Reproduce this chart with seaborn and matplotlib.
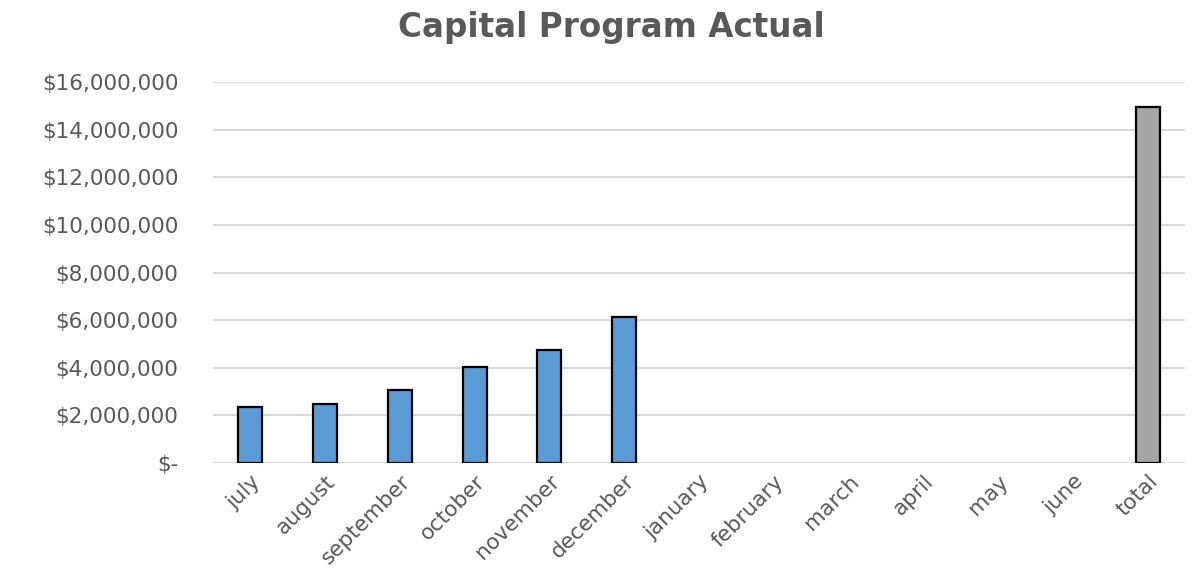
import numpy as np
import pandas as pd
import matplotlib
matplotlib.use("Agg")
import matplotlib.pyplot as plt
from matplotlib.ticker import FuncFormatter
import seaborn as sns

months = ["july", "august", "september", "october", "november", "december",
          "january", "february", "march", "april", "may", "june", "total"]
actual = [2370000, 2470000, 3060000, 4030000, 4750000, 6150000,
          np.nan, np.nan, np.nan, np.nan, np.nan, np.nan, 14960000]
bar_colors = ["#5B9BD5"] * 12 + ["#A5A5A5"]

sns.set_theme(style="white")
plt.rcParams["font.family"] = ["DejaVu Sans"]

df = pd.DataFrame({"month": months, "actual": actual})

fig = plt.figure(figsize=(12.02, 5.82), dpi=100)
ax = fig.add_axes([213 / 1202, 1 - 463 / 582, (1185 - 213) / 1202, (463 - 82) / 582])

sns.barplot(data=df, x="month", y="actual", hue="month", order=months,
            hue_order=months, palette=bar_colors, legend=False, width=0.32,
            saturation=1, edgecolor="black", linewidth=1.6, ax=ax, zorder=3)

ax.set_xlim(-0.5, len(months) - 0.5)
ax.set_ylim(0, 16000000)
ax.set_yticks(np.arange(0, 16000001, 2000000))

def fmt(v, pos):
    if v == 0:
        return "$-"
    return "${:,.0f}".format(v)

ax.yaxis.set_major_formatter(FuncFormatter(fmt))
ax.grid(axis="y", color="#D9D9D9", linewidth=1.5, zorder=0)
ax.set_axisbelow(True)
for s in ax.spines.values():
    s.set_visible(False)
ax.tick_params(axis="both", length=0, colors="#595959", labelsize=15.5)
ax.tick_params(axis="y", pad=25)
ax.set_xlabel("")
ax.set_ylabel("")
plt.setp(ax.get_xticklabels(), rotation=45, ha="right", rotation_mode="anchor")
ax.tick_params(axis="x", pad=6)

fig.suptitle("Capital Program Actual", x=(395 + 828) / 2 / 1202, y=1 - 28 / 582,
             va="center", fontsize=23.5, fontweight="bold", color="#595959")

fig.savefig("out.png", dpi=100)
